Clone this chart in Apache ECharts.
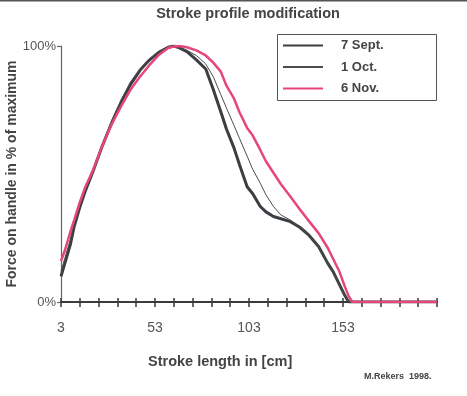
<!DOCTYPE html>
<html><head><meta charset="utf-8">
<script src="https://cdn.jsdelivr.net/npm/echarts@6/dist/echarts.min.js"></script>
<style>html,body{margin:0;padding:0;background:#fff}#c{width:467px;height:396px}</style>
</head><body><div id="c"></div><script>
// Stroke length in cm
const strokeLength = [3,5,8,10,13,16,20,25,30,35,40,45,50,55,60,63,66,70,75,80,84,88,91,95,98,102,105,109,112,116,120,125,130,135,140,145,148,151,154,156,158,163,170,180,190,203];
// Force on handle in % of maximum
const sept7 = [10,15,22.5,29.5,37,43.5,51,61,70,78,85,90.5,94.5,97.5,99.5,100,99.3,97.8,94.6,91,83,74.3,67.6,60.2,53.5,45,42.3,37.3,35.2,33.4,32.5,31.4,29.2,26,21.7,15,11.5,7,2.5,0,0,0,0,0,0,0];
const oct1  = [12,17,24.5,31,38,44.5,51.5,61.5,71,79,86,91,95,97.8,99.5,100,99.5,98.3,96.3,93,88,81,75.8,69,63.8,57,51.8,46.4,41.9,37.3,34,32,29.2,26,21.7,15,11.5,7,2.5,0,0,0,0,0,0,0];
const nov6  = [16,20,27.5,32,39,45,51.5,61,69.5,76.5,83,88,92.5,96.5,99.2,99.8,100,99.5,98.3,96.3,93.5,90,84.5,79.5,74,68,65,59.4,55,50.5,46,41.2,36.2,31.5,26.9,21,16.5,12,6,2.3,0,0,0,0,0,0];
const seriesNames = ['7 Sept.', '1 Oct.', '6 Nov.'];
const xTickLabels = [3, 53, 103, 153];
const xMin = 3, xMax = 203, xMinorStep = 10;
const yTickLabels = [0, 100];

const xTicks = [];
for (let v = xMin; v <= xMax; v += xMinorStep) xTicks.push(v);
const pairs = arr => strokeLength.map((x, i) => [x, arr[i]]);

const chart = echarts.init(document.getElementById('c'), null, {renderer: 'canvas'});
const FONT = 'Liberation Sans, Arial, sans-serif';
chart.setOption({
  backgroundColor: '#ffffff',
  animation: false,
  title: {
    text: 'Stroke profile modification', left: 243, top: 1, textAlign: 'center',
    textStyle: {fontFamily: FONT, fontWeight: 'bold', fontSize: 14.5, color: '#444'}
  },
  grid: {left: 61, right: 30, top: 46, bottom: 94, outerBoundsMode: 'none', containLabel: false},
  legend: {
    orient: 'vertical', left: 278, top: 36, padding: [3, 0, 0, 4],
    itemWidth: 40, itemHeight: 14, itemGap: 8.5,
    itemStyle: {opacity: 0},
    data: seriesNames,
    textStyle: {fontFamily: FONT, fontWeight: 'bold', fontSize: 13, color: '#444', padding: [0, 0, 0, 13]}
  },
  xAxis: [{
    type: 'value', min: xMin, max: xMax,
    axisLine: {show: true, lineStyle: {color: '#3a3a3a', width: 2}},
    axisTick: {show: true, customValues: xTicks, length: 5, lineStyle: {color: '#3a3a3a', width: 1.5}},
    axisLabel: {customValues: xTickLabels, margin: 19, fontFamily: FONT, fontSize: 14, color: '#555'},
    splitLine: {show: false}
  }, {
    type: 'value', min: xMin, max: xMax, position: 'bottom',
    axisLine: {show: false},
    axisTick: {show: true, inside: true, customValues: xTicks, length: 4, lineStyle: {color: '#3a3a3a', width: 1.5}},
    axisLabel: {show: false},
    splitLine: {show: false}
  }],
  yAxis: {
    type: 'value', min: 0, max: 100, interval: 100,
    name: 'Force on handle in % of maximum', nameLocation: 'middle', nameRotate: 90, nameGap: 42,
    nameMoveOverlap: false,
    nameTextStyle: {fontFamily: FONT, fontWeight: 'bold', fontSize: 14, color: '#444'},
    axisLine: {show: true, lineStyle: {color: '#666', width: 1.2}},
    axisTick: {show: true, length: 4, lineStyle: {color: '#666', width: 1.2}},
    axisLabel: {formatter: '{value}%', margin: 5, fontFamily: FONT, fontSize: 13, color: '#555'},
    splitLine: {show: false}
  },
  graphic: [
    {type: 'rect', shape: {x: 277.5, y: 34.5, width: 159, height: 66}, style: {fill: 'none', stroke: '#555', lineWidth: 1}, z: 10},
    {type: 'rect', shape: {x: 0, y: 0, width: 467, height: 1.5}, style: {fill: '#555'}},
    {type: 'text', left: 148, top: 354, style: {text: 'Stroke length in [cm]', fontFamily: FONT, fontWeight: 'bold', fontSize: 14.5, fill: '#444'}},
    {type: 'text', left: 364, top: 372, style: {text: 'M.Rekers  1998.', fontFamily: FONT, fontWeight: 'bold', fontSize: 9, fill: '#444'}}
  ],
  series: [
    {name: seriesNames[0], type: 'line', data: pairs(sept7), symbol: 'none', lineStyle: {color: '#3b3e42', width: 3}, itemStyle: {color: '#3b3e42'}, z: 2},
    {name: seriesNames[1], type: 'line', data: pairs(oct1), symbol: 'none', lineStyle: {color: '#4a4d50', width: 1}, itemStyle: {color: '#4a4d50'}, z: 3},
    {name: seriesNames[2], type: 'line', data: pairs(nov6), symbol: 'none', lineStyle: {color: '#e6457d', width: 2.5}, itemStyle: {color: '#e6457d'}, z: 4}
  ]
});
</script></body></html>
